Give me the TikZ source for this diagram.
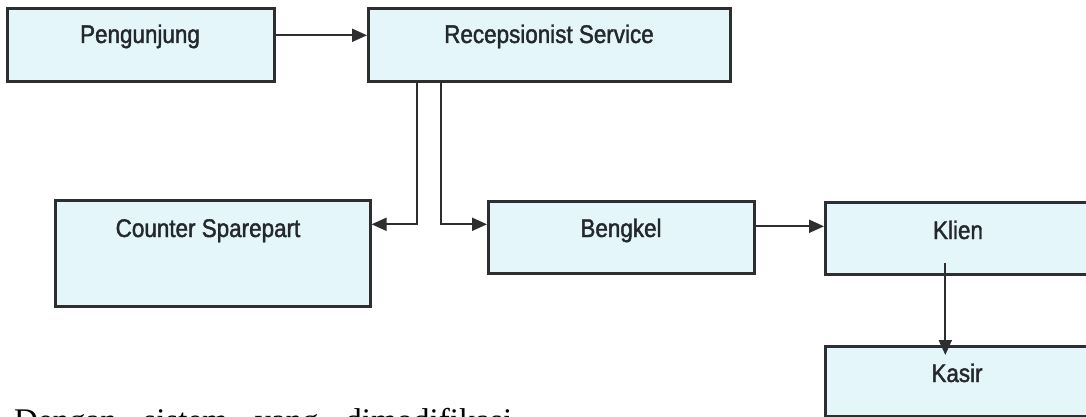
\documentclass[tikz,border=0pt]{standalone}
\usepackage{fontspec}
\setmainfont{Liberation Serif}
\newfontfamily\boxfont[FakeStretch=0.88,FakeBold=1.6]{Liberation Sans}
\usetikzlibrary{arrows.meta}
\definecolor{boxfill}{RGB}{229,246,250}
\definecolor{boxline}{RGB}{44,46,48}
\definecolor{inkgray}{RGB}{36,40,44}
\begin{document}
\begin{tikzpicture}[x=1pt,y=-1pt,
  flowbox/.style={draw=boxline, line width=2.6pt, fill=boxfill, rectangle,
    inner sep=0pt, anchor=north west},
  boxtext/.style={font=\boxfont\fontsize{25.5}{30}\selectfont, text=inkgray,
    inner sep=0pt, anchor=base},
  flow/.style={draw=boxline, line width=2pt,
    -{Triangle[length=15pt,width=13pt]}}]
\useasboundingbox (0,0) rectangle (1086,417);
\clip (0,0) rectangle (1086,417);
\fill[white] (0,0) rectangle (1086,417);

% boxes
\node[flowbox, minimum width=267pt, minimum height=73pt]  (pen) at (6,7)     {};
\node[flowbox, minimum width=362pt, minimum height=73pt]  (rec) at (367,7)   {};
\node[flowbox, minimum width=315pt, minimum height=106pt] (cs)  at (54,199)  {};
\node[flowbox, minimum width=266pt, minimum height=72pt]  (bk)  at (487,200) {};
\node[flowbox, minimum width=268pt, minimum height=72pt]  (kl)  at (824,201) {};
\node[flowbox, minimum width=268pt, minimum height=70pt]  (ks)  at (824,345) {};

% box titles, set near the top edge of each box
\node[boxtext] (penT) at (140,43)  {Pengunjung};
\node[boxtext] (recT) at (549,43)  {Recepsionist Service};
\node[boxtext] (csT)  at (208,237) {Counter Sparepart};
\node[boxtext] (bkT)  at (621,237) {Bengkel};
\node[boxtext] (klT)  at (958,239) {Klien};
\node[boxtext] (ksT)  at (957,382) {Kasir};

% connectors
\draw[flow] ([yshift=9.5pt]pen.east) -- ([yshift=9.5pt]pen.east -| rec.west);
\draw[flow] ([xshift=-132pt]rec.south) |- ([yshift=29pt]cs.east);
\draw[flow] ([xshift=-108pt]rec.south) |- ([yshift=13pt]bk.west);
\draw[flow] ([yshift=11pt]bk.east) -- ([yshift=11pt]bk.east -| kl.west);
\draw[flow] ([xshift=-14pt,yshift=-25pt]kl.center) -- ([xshift=-14pt,yshift=-10pt]ks.north);

% running text below the chart, cut by the lower edge
\node[anchor=base west, inner sep=0pt, font=\fontsize{33}{38}\selectfont, text=black]
  (body) at (14,431) {\makebox[498pt][s]{Dengan sistem yang dimodifikasi}};
\end{tikzpicture}
\end{document}
